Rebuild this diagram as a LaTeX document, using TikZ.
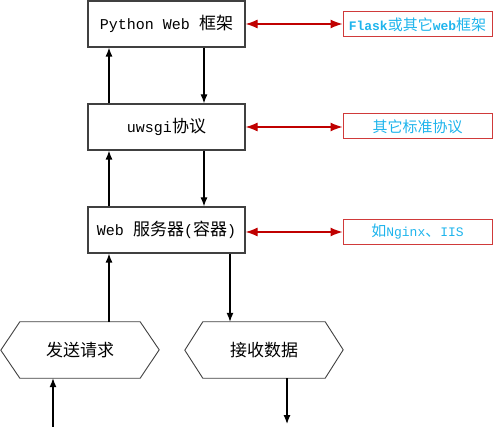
\documentclass[tikz,border=0pt]{standalone}
\usepackage{fontspec}
\setmainfont{Liberation Mono}
\newfontfamily\cjk{Noto Sans CJK SC}
\newfontfamily\mono{Liberation Mono}
\usetikzlibrary{arrows.meta}
\definecolor{redline}{HTML}{C00000}
\definecolor{redbox}{HTML}{D03A3A}
\definecolor{bluetext}{HTML}{1EB4EC}
\definecolor{boxline}{HTML}{404040}
\tikzset{
  mainbox/.style={draw=boxline, line width=1.2pt, minimum width=157pt, minimum height=46pt, inner sep=0pt, font=\fontsize{15}{18}\selectfont},
  notebox/.style={draw=redbox, line width=1pt, minimum width=149pt, minimum height=25pt, inner sep=0pt, text=bluetext, font=\fontsize{13}{16}\selectfont},
  hexlabel/.style={minimum height=56pt, inner sep=0pt, font=\fontsize{17}{20}\selectfont},
  hexline/.style={draw=boxline, line width=0.9pt},
  arr/.style={-{Latex[length=9pt,width=7pt]}, line width=1.2pt, black},
  redarr/.style={{Latex[length=12pt,width=9pt]}-{Latex[length=12pt,width=9pt]}, line width=1.2pt, redline}
}
\begin{document}
\begin{tikzpicture}[x=1pt,y=-1pt]
\useasboundingbox (0,0) rectangle (495,427);
\node[mainbox] (fw) at (166.5,24) {Python Web {\cjk\fontsize{17}{20}\selectfont 框架}};
\node[mainbox] (uw) at (166.5,127) {uwsgi{\cjk\fontsize{17}{20}\selectfont 协议}};
\node[mainbox] (ws) at (166.5,230) {Web {\cjk\fontsize{17}{20}\selectfont 服务器}({\cjk\fontsize{17}{20}\selectfont 容器})};
\node[notebox] (n1) at (417.5,24.5) {\textbf{Flask}{\cjk\fontsize{15}{18}\selectfont 或其它}\textbf{web}{\cjk\fontsize{15}{18}\selectfont 框架}};
\node[notebox] (n2) at (417.5,126.5) {{\cjk\fontsize{15}{18}\selectfont 其它标准协议}};
\node[notebox] (n3) at (417.5,232) {{\cjk\fontsize{15}{18}\selectfont 如}Nginx{\cjk\fontsize{15}{18}\selectfont 、}IIS};
\node[hexlabel, minimum width=120pt] (send) at (80,350) {\cjk 发送请求};
\node[hexlabel, minimum width=122pt] (recv) at (264,350) {\cjk 接收数据};
\draw[hexline] (send.north west) -- (send.north east) -- ++(19,28) -- (send.south east) -- (send.south west) -- ++(-19,-28) -- cycle;
\draw[hexline] (recv.north west) -- (recv.north east) -- ++(18,28) -- (recv.south east) -- (recv.south west) -- ++(-18,-28) -- cycle;
\coordinate (in) at (53,427);
\coordinate (out) at (287,424);
% vertical connectors
\draw[arr] ([xshift=-57.5pt]uw.north) -- ([xshift=-57.5pt]fw.south);
\draw[arr] ([xshift=37.5pt]fw.south) -- ([xshift=37.5pt]uw.north);
\draw[arr] ([xshift=-57.5pt]ws.north) -- ([xshift=-57.5pt]uw.south);
\draw[arr] ([xshift=37.5pt]uw.south) -- ([xshift=37.5pt]ws.north);
\draw[arr] ([xshift=29pt]send.north) -- ([xshift=-57.5pt]ws.south);
\draw[arr] ([xshift=63.5pt]ws.south) -- ([xshift=-34pt]recv.north);
\draw[arr] (in) -- ([xshift=-27pt]send.south);
\draw[arr] ([xshift=23pt]recv.south) -- (out);
% red connectors
\draw[redarr] (fw.east) -- (n1.west |- fw.east);
\draw[redarr] (uw.east) -- (n2.west |- uw.east);
\draw[redarr] (ws.east |- n3.west) -- (n3.west);
\end{tikzpicture}
\end{document}
